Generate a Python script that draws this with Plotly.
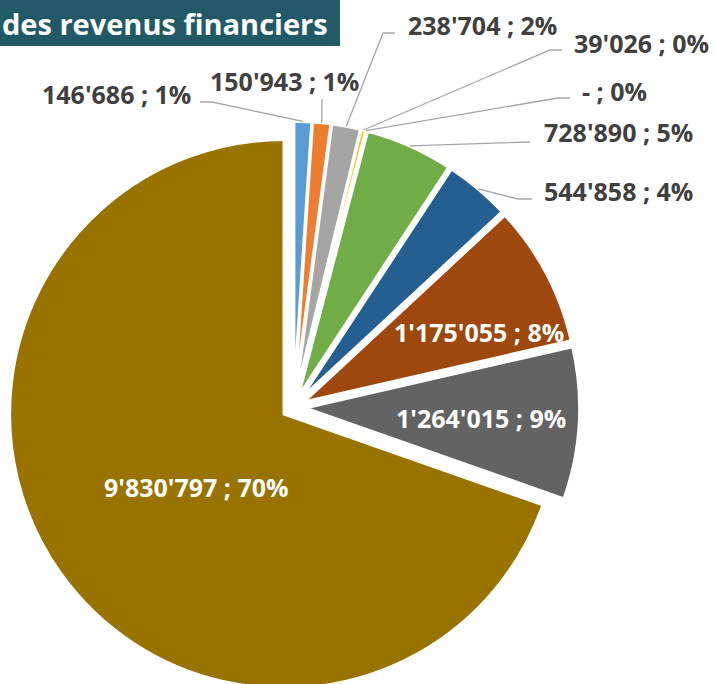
import math
import plotly.graph_objects as go

# ---------------- data ----------------
categories = ["Catégorie 1", "Catégorie 2", "Catégorie 3", "Catégorie 4", "Catégorie 5",
              "Catégorie 6", "Catégorie 7", "Catégorie 8", "Catégorie 9", "Catégorie 10"]
values = [146686, 150943, 238704, 39026, 0, 728890, 544858, 1175055, 1264015, 9830797]
colors = ["#5B9BD5", "#ED7D31", "#A5A5A5", "#FFC000", "#4472C4",
          "#70AD47", "#255E91", "#9E480E", "#636363", "#997300"]
title_text = "des revenus financiers"

# ---------------- layout constants (pixels) ----------------
W, H = 715, 704
CX, CY = 293.5, 407.3      # pie centre
R = 274.4                  # pie radius
PULL = 0.0423              # explosion
S = 2 * R * (1 + PULL)     # pie box size

def fx(x):
    return x / W

def fy(y):
    return 1 - y / H

total = sum(values)

def fmt(v):
    return "-" if v == 0 else f"{v:,}".replace(",", "'")

def label(i):
    return f"{fmt(values[i])} ; {round(values[i] / total * 100)}%"

# mid angle of every slice (clockwise from 12 o'clock)
mid_angles = []
cum = 0
for v in values:
    mid_angles.append((cum + v / 2) / total * 360)
    cum += v

fig = go.Figure(go.Pie(
    labels=categories, values=values, sort=False, direction="clockwise", rotation=0,
    marker=dict(colors=colors, line=dict(color="white", width=3)),
    pull=[PULL] * len(values), textinfo="none", hoverinfo="label+value+percent",
    showlegend=False,
    domain=dict(x=[fx(CX - S / 2), fx(CX + S / 2)], y=[fy(CY + S / 2), fy(CY - S / 2)]),
))

# outside labels: text anchor x, xanchor, text centre y, leader start, leader elbow
outside = {
    0: (193, "right", 94, (200, 102), (212, 102)),
    1: (208, "left", 81, (322, 99), (322, 99)),
    2: (406, "left", 25, (395, 33), (383, 33)),
    3: (572, "left", 43, (562, 50), (550, 50)),
    4: (580, "left", 91, (570, 98), (558, 98)),
    5: (542, "left", 132, (530, 142), (530, 142)),
    6: (542, "left", 191, (532, 199), (518, 199)),
}
inside = {7: (479, 332), 8: (481, 418), 9: (196, 487)}

font_out = dict(family="Open Sans", size=25, color="#404040", weight="bold")
font_in = dict(family="Open Sans", size=25, color="white", weight="bold")

annotations = []
shapes = []
for i, (tx, xa, ty, p0, p1) in outside.items():
    annotations.append(dict(x=fx(tx), y=fy(ty), xref="paper", yref="paper", text=label(i),
                            showarrow=False, xanchor=xa, yanchor="middle", font=font_out))
    a = math.radians(mid_angles[i])
    ex = CX + R * (1 + PULL) * math.sin(a)
    ey = CY - R * (1 + PULL) * math.cos(a)
    path = f"M {fx(p0[0])} {fy(p0[1])} L {fx(p1[0])} {fy(p1[1])} L {fx(ex)} {fy(ey)}"
    shapes.append(dict(type="path", path=path, xref="paper", yref="paper",
                       line=dict(color="#A6A6A6", width=1.3)))
for i, (tx, ty) in inside.items():
    annotations.append(dict(x=fx(tx), y=fy(ty), xref="paper", yref="paper", text=label(i),
                            showarrow=False, xanchor="center", yanchor="middle", font=font_in))

# title box
shapes.append(dict(type="rect", xref="paper", yref="paper", x0=fx(0), x1=fx(340), y0=fy(46), y1=fy(0),
                   fillcolor="#215A66", line=dict(width=0), layer="above"))
annotations.append(dict(x=fx(330), y=fy(23), xref="paper", yref="paper", text=title_text,
                        showarrow=False, xanchor="right", yanchor="middle",
                        font=dict(family="Open Sans", size=29, color="white", weight="bold")))

fig.update_layout(width=W, height=H, margin=dict(l=0, r=0, t=0, b=0),
                  paper_bgcolor="white", plot_bgcolor="white",
                  shapes=shapes, annotations=annotations)

fig.write_html("out.html", config={"displayModeBar": False},
               post_script="document.body.style.margin='0';document.body.style.overflow='hidden';")
